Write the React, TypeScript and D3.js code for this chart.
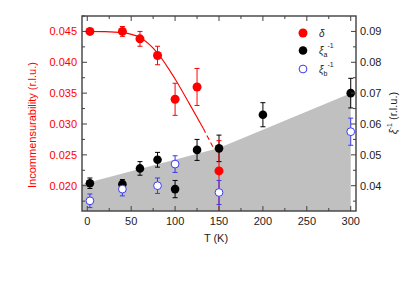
import React from 'react'
import * as d3 from 'd3'

// incommensurability delta (left axis)
const deltaT = [3, 40, 60, 80, 100, 125, 150]
const deltaV = [0.045, 0.045, 0.0438, 0.0411, 0.034, 0.036, 0.0224]
const deltaErrUp = [0.0003, 0.0008, 0.0012, 0.0015, 0.0026, 0.003, 0.0049]
const deltaErrLow = [0.0003, 0.0008, 0.0012, 0.0015, 0.0026, 0.003, 0.0075]

// fit line for delta
const fitT = [3, 20, 40, 60, 80, 100, 117, 132]
const fitV = [0.045, 0.04497, 0.0448, 0.044, 0.0415, 0.0373, 0.0331, 0.0293]
const fitDashT = [132, 143]
const fitDashV = [0.0293, 0.0263]

// xi_a^-1 (right axis)
const xiaT = [3, 40, 60, 80, 100, 125, 150, 200, 300]
const xiaV = [0.0408, 0.0405, 0.0456, 0.0484, 0.0389, 0.0516, 0.0521, 0.063, 0.07]
const xiaErr = [0.0017, 0.0015, 0.0022, 0.0024, 0.0028, 0.0034, 0.0043, 0.0039, 0.0048]

// xi_b^-1 (right axis)
const xibT = [3, 40, 80, 100, 150, 300]
const xibV = [0.0351, 0.0389, 0.04, 0.047, 0.0378, 0.0575]
const xibErr = [0.0022, 0.0022, 0.0025, 0.0027, 0.0039, 0.0044]

// grey region upper edge (right axis)
const shadeT = [-6, 150, 300]
const shadeV = [0.0405, 0.0522, 0.07]

const xTicks = [0, 50, 100, 150, 200, 250, 300]
const xMinor = [25, 75, 125, 175, 225, 275]
const yLTicks = [0.02, 0.025, 0.03, 0.035, 0.04, 0.045]
const yLMinor = [0.0175, 0.0225, 0.0275, 0.0325, 0.0375, 0.0425, 0.0475]
const yRTicks = [0.04, 0.05, 0.06, 0.07, 0.08, 0.09]
const yRMinor = [0.035, 0.045, 0.055, 0.065, 0.075, 0.085]

const W = 415
const H = 284
const L = 82
const R = 356
const T = 16
const B = 211
const RED = '#ff0000'
const BLUE = '#3b3bf0'
const AXIS = '#404040'
const FONT = 'Liberation Sans, Arial, sans-serif'

const x = d3.scaleLinear().domain([-6, 306]).range([L, R])
const yL = d3.scaleLinear().domain([0.0159, 0.0475]).range([B, T])
const yR = d3.scaleLinear().domain([0.0318, 0.095]).range([B, T])

const ErrBars = ({ ts, vs, up, low, y, color }) => (
  <g stroke={color} strokeWidth={1}>
    {ts.map((t, i) => {
      const cx = x(t)
      const y1 = y(vs[i] + up[i])
      const y2 = y(vs[i] - low[i])
      return (
        <g key={i}>
          <line x1={cx} x2={cx} y1={y1} y2={y2} />
          <line x1={cx - 2.5} x2={cx + 2.5} y1={y1} y2={y1} />
          <line x1={cx - 2.5} x2={cx + 2.5} y1={y2} y2={y2} />
        </g>
      )
    })}
  </g>
)

export default function App() {
  const line = d3
    .line<number>()
    .x((d, i) => x(fitT[i]))
    .y((d) => yL(d))
    .curve(d3.curveMonotoneX)
  const dashLine = d3
    .line<number>()
    .x((d, i) => x(fitDashT[i]))
    .y((d) => yL(d))

  const shadePts = shadeT.map((t, i) => [x(t), yR(shadeV[i])])
  const shadePath =
    'M' +
    shadePts.map((p) => p.join(',')).join('L') +
    `L${x(300)},${B}L${x(-6)},${B}Z`

  return (
    <svg
      width={W}
      height={H}
      style={{ position: 'absolute', left: 0, top: 0, background: '#fff' }}
      fontFamily={FONT}
    >
      <defs>
        <clipPath id="plot">
          <rect x={L} y={T} width={R - L} height={B - T} />
        </clipPath>
      </defs>

      <g clipPath="url(#plot)">
        <path d={shadePath} fill="#c0c0c0" />
        <path d={line(fitV)} fill="none" stroke={RED} strokeWidth={1.1} />
        <path
          d={dashLine(fitDashV)}
          fill="none"
          stroke={RED}
          strokeWidth={1.1}
          strokeDasharray="5,3"
        />
        <ErrBars ts={xiaT} vs={xiaV} up={xiaErr} low={xiaErr} y={yR} color="#000" />
        <ErrBars ts={deltaT} vs={deltaV} up={deltaErrUp} low={deltaErrLow} y={yL} color={RED} />
        <ErrBars ts={xibT} vs={xibV} up={xibErr} low={xibErr} y={yR} color={BLUE} />
        {xiaT.map((t, i) => (
          <circle key={'a' + i} cx={x(t)} cy={yR(xiaV[i])} r={4.3} fill="#000" />
        ))}
        {deltaT.map((t, i) => (
          <circle key={'d' + i} cx={x(t)} cy={yL(deltaV[i])} r={4.5} fill={RED} />
        ))}
        {xibT.map((t, i) => (
          <circle
            key={'b' + i}
            cx={x(t)}
            cy={yR(xibV[i])}
            r={3.9}
            fill="#fff"
            stroke={BLUE}
            strokeWidth={1}
          />
        ))}
      </g>

      {/* frame and ticks */}
      <rect x={L} y={T} width={R - L} height={B - T} fill="none" stroke={AXIS} strokeWidth={1.4} />
      <g stroke={AXIS} strokeWidth={1}>
        {xTicks.map((t) => (
          <g key={'xt' + t}>
            <line x1={x(t)} x2={x(t)} y1={B} y2={B - 5} />
            <line x1={x(t)} x2={x(t)} y1={T} y2={T + 5} />
          </g>
        ))}
        {xMinor.map((t) => (
          <g key={'xm' + t}>
            <line x1={x(t)} x2={x(t)} y1={B} y2={B - 3} />
            <line x1={x(t)} x2={x(t)} y1={T} y2={T + 3} />
          </g>
        ))}
        {yLTicks.map((v) => (
          <line key={'yl' + v} x1={L} x2={L + 5} y1={yL(v)} y2={yL(v)} />
        ))}
        {yLMinor.map((v) => (
          <line key={'ylm' + v} x1={L} x2={L + 3} y1={yL(v)} y2={yL(v)} />
        ))}
        {yRTicks.map((v) => (
          <line key={'yr' + v} x1={R} x2={R - 5} y1={yR(v)} y2={yR(v)} />
        ))}
        {yRMinor.map((v) => (
          <line key={'yrm' + v} x1={R} x2={R - 3} y1={yR(v)} y2={yR(v)} />
        ))}
      </g>

      {/* tick labels */}
      <g fontSize={11} fill="#222" textAnchor="middle">
        {xTicks.map((t) => (
          <text key={'xl' + t} x={x(t)} y={225}>
            {t}
          </text>
        ))}
      </g>
      <g fontSize={11} fill={RED} textAnchor="end">
        {yLTicks.map((v) => (
          <text key={'yll' + v} x={77} y={yL(v) + 4}>
            {d3.format('.3f')(v)}
          </text>
        ))}
      </g>
      <g fontSize={11} fill="#222" textAnchor="start">
        {yRTicks.map((v) => (
          <text key={'yrl' + v} x={360} y={yR(v) + 4}>
            {d3.format('.2f')(v)}
          </text>
        ))}
      </g>

      {/* axis titles */}
      <text x={216} y={242} fontSize={11} textAnchor="middle" fill="#222">
        T (K)
      </text>
      <text
        transform="translate(36,125) rotate(-90)"
        fontSize={11}
        textAnchor="middle"
        fill={RED}
      >
        Incommensurability (r.l.u.)
      </text>
      <text
        transform="translate(397,113) rotate(-90)"
        fontSize={11}
        textAnchor="middle"
        fill="#222"
      >
        <tspan fontStyle="italic">ξ</tspan>
        <tspan fontSize={7} dy={-5}>-1</tspan>
        <tspan dy={5}> (r.l.u.)</tspan>
      </text>

      {/* legend */}
      <circle cx={303} cy={33} r={4.5} fill={RED} />
      <circle cx={303} cy={50.5} r={4.3} fill="#000" />
      <circle cx={303} cy={69} r={3.9} fill="#fff" stroke={BLUE} />
      <g fontSize={10} fill="#222">
        <text x={319} y={37} fontStyle="italic">δ</text>
        <text x={319} y={54}>
          <tspan fontStyle="italic">ξ</tspan>
          <tspan fontSize={7} dy={3}>a</tspan>
          <tspan fontSize={7} dy={-9}>-1</tspan>
        </text>
        <text x={319} y={73}>
          <tspan fontStyle="italic">ξ</tspan>
          <tspan fontSize={7} dy={3}>b</tspan>
          <tspan fontSize={7} dy={-9}>-1</tspan>
        </text>
      </g>
    </svg>
  )
}
